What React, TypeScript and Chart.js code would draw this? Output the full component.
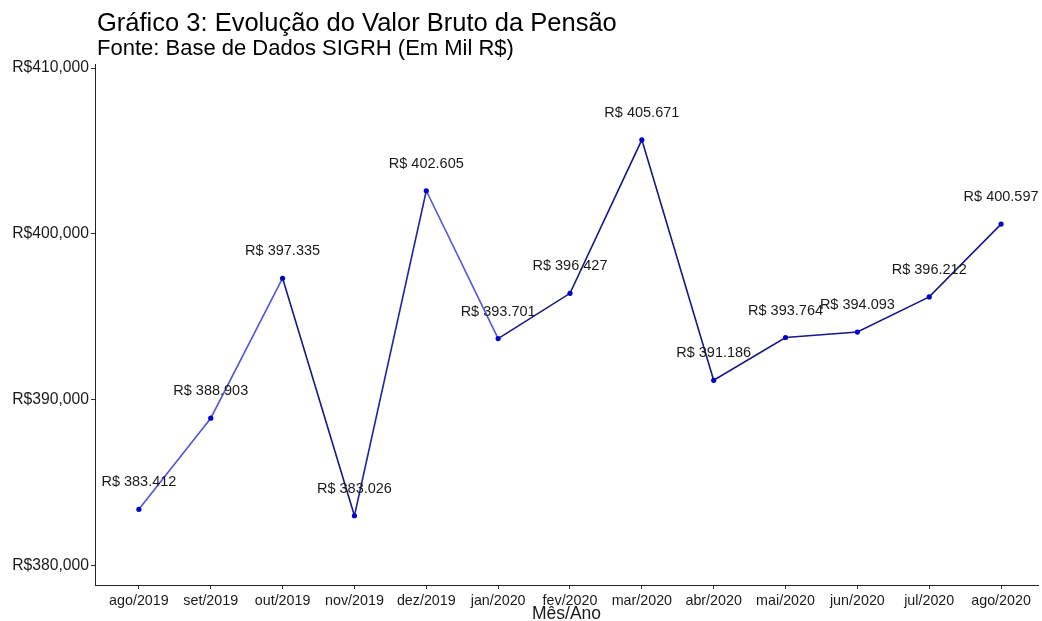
import React, { useEffect, useRef } from "react";
import { Chart, registerables } from "chart.js";

Chart.register(...registerables);

const categories = [
  "ago/2019", "set/2019", "out/2019", "nov/2019", "dez/2019", "jan/2020", "fev/2020",
  "mar/2020", "abr/2020", "mai/2020", "jun/2020", "jul/2020", "ago/2020",
];
const values = [
  383412, 388903, 397335, 383026, 402605, 393701, 396427,
  405671, 391186, 393764, 394093, 396212, 400597,
];
const yTicks = [380000, 390000, 400000, 410000];

const LIGHT = "#5555d4";
const DARK = "#181884";
const MED = "#2424a2";
const segmentColors = [LIGHT, LIGHT, DARK, MED, LIGHT, DARK, DARK, DARK, DARK, DARK, DARK, DARK];

const titleText = "Gráfico 3: Evolução do Valor Bruto da Pensão";
const subtitleText = "Fonte: Base de Dados SIGRH (Em Mil R$)";
const xTitle = "Mês/Ano";

const FONT = "'Liberation Sans', Arial, sans-serif";

function groupThousands(n: number, sep: string): string {
  const s = Math.round(n).toString();
  return s.replace(/\B(?=(\d{3})+(?!\d))/g, sep);
}

const textPlugin = {
  id: "textPlugin",
  afterDatasetsDraw(chart: any) {
    const ctx = chart.ctx;
    const meta = chart.getDatasetMeta(0);
    ctx.save();
    ctx.fillStyle = "#1a1a1a";
    ctx.font = `14.5px ${FONT}`;
    ctx.textAlign = "center";
    ctx.textBaseline = "middle";
    meta.data.forEach((pt: any, i: number) => {
      ctx.fillText("R$ " + groupThousands(values[i], "."), pt.x, pt.y - 27);
    });
    ctx.restore();
  },
  afterDraw(chart: any) {
    const ctx = chart.ctx;
    const area = chart.chartArea;
    ctx.save();
    ctx.fillStyle = "#000";
    ctx.textAlign = "left";
    ctx.textBaseline = "alphabetic";
    ctx.font = `25.5px ${FONT}`;
    ctx.fillText(titleText, 97, 31);
    ctx.font = `22px ${FONT}`;
    ctx.fillText(subtitleText, 97, 55);
    ctx.font = `17.5px ${FONT}`;
    ctx.fillStyle = "#1a1a1a";
    ctx.textAlign = "center";
    ctx.fillText(xTitle, (area.left + area.right) / 2, 619);
    ctx.restore();
  },
};

export default function App() {
  const ref = useRef<HTMLCanvasElement>(null);
  useEffect(() => {
    if (!ref.current) return;
    const chart = new Chart(ref.current, {
      type: "line",
      data: {
        datasets: [
          {
            data: values.map((v, i) => ({ x: i, y: v })),
            borderWidth: 1.6,
            borderColor: DARK,
            pointRadius: 2.6,
            pointBackgroundColor: "#0000cc",
            pointBorderColor: "#0000cc",
            pointBorderWidth: 0,
            tension: 0,
            segment: {
              borderColor: (c: any) => segmentColors[c.p0DataIndex],
            },
          },
        ],
      },
      options: {
        animation: false,
        responsive: false,
        layout: { padding: { top: 64, right: 2, left: 0, bottom: 0 } },
        plugins: {
          legend: { display: false },
          tooltip: { enabled: false },
          title: { display: false },
        },
        scales: {
          x: {
            type: "linear",
            min: -0.611,
            max: 12.514,
            afterBuildTicks: (axis: any) => {
              axis.ticks = categories.map((_, i) => ({ value: i }));
            },
            afterFit: (axis: any) => {
              axis.height = 36;
            },
            ticks: {
              autoSkip: false,
              maxRotation: 0,
              padding: 3,
              color: "#1a1a1a",
              font: { family: FONT, size: 14.3 },
              callback: (v: any) => categories[Math.round(Number(v))] ?? "",
            },
            grid: {
              display: true,
              drawOnChartArea: false,
              drawTicks: true,
              tickLength: 4,
              color: "#333",
            },
            border: { display: true, color: "#222", width: 1 },
          },
          y: {
            type: "linear",
            min: 378855,
            max: 410241,
            afterBuildTicks: (axis: any) => {
              axis.ticks = yTicks.map((v) => ({ value: v }));
            },
            afterFit: (axis: any) => {
              axis.width = 95;
            },
            ticks: {
              padding: 2,
              color: "#1a1a1a",
              font: { family: FONT, size: 15.7 },
              callback: (v: any) => "R$" + groupThousands(Number(v), ","),
            },
            grid: {
              display: true,
              drawOnChartArea: false,
              drawTicks: true,
              tickLength: 4,
              color: "#333",
            },
            border: { display: true, color: "#222", width: 1 },
          },
        },
      },
      plugins: [textPlugin],
    } as any);
    return () => chart.destroy();
  }, []);
  return (
    <div style={{ position: "absolute", left: 0, top: 0, width: 1042, height: 621, background: "#fff" }}>
      <canvas ref={ref} width={1042} height={621} />
    </div>
  );
}
